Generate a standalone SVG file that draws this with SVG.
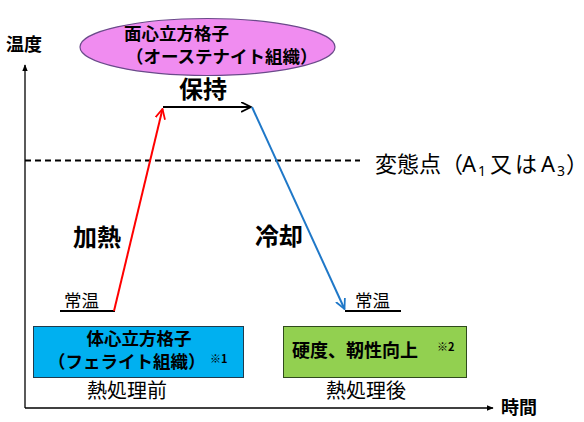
<svg xmlns="http://www.w3.org/2000/svg" width="584" height="422" viewBox="0 0 584 422">
<defs>
<marker id="ahk" viewBox="0 0 10 10" refX="9" refY="5" markerWidth="7" markerHeight="7" orient="auto" markerUnits="userSpaceOnUse"><path d="M0,1 L10,5 L0,9 Z" fill="#000"/></marker>
<marker id="ahr" viewBox="0 0 10 10" refX="9" refY="5" markerWidth="11" markerHeight="11" orient="auto" markerUnits="userSpaceOnUse"><path d="M0,0.5 L9,5 L0,9.5" fill="none" stroke="#FF0000" stroke-width="1.6"/></marker>
<marker id="ahb" viewBox="0 0 10 10" refX="9" refY="5" markerWidth="11" markerHeight="11" orient="auto" markerUnits="userSpaceOnUse"><path d="M0,0.5 L9,5 L0,9.5" fill="none" stroke="#1F78C8" stroke-width="1.6"/></marker>
<marker id="ahh" viewBox="0 0 10 10" refX="9" refY="5" markerWidth="11" markerHeight="11" orient="auto" markerUnits="userSpaceOnUse"><path d="M0,0.5 L9,5 L0,9.5" fill="none" stroke="#000" stroke-width="1.6"/></marker>
</defs>
<style>
text{font-family:"Noto Sans CJK JP","Noto Sans CJK SC",sans-serif;fill:#000}
.b{font-weight:bold}
.n{font-weight:normal}
.lat{font-family:"Noto Sans","Open Sans",sans-serif}
</style>
<rect width="584" height="422" fill="#fff"/>
<g id="axes">
<line x1="25" y1="408" x2="25" y2="65" stroke="#000" stroke-width="1.3" marker-end="url(#ahk)"/>
<line x1="25" y1="408" x2="493" y2="408" stroke="#000" stroke-width="1.3" marker-end="url(#ahk)"/>
<text x="6" y="51" class="b" font-size="18">温度</text>
<text x="501" y="414" class="b" font-size="18">時間</text>
</g>
<g id="transformation">
<line x1="25" y1="160.5" x2="360" y2="160.5" stroke="#000" stroke-width="2" stroke-dasharray="6,4"/>
<text y="172" font-size="22" class="n"><tspan x="375">変態点（</tspan><tspan x="462" class="lat">A</tspan><tspan x="478" y="176" font-size="14" class="lat">1</tspan><tspan x="490" y="172">又</tspan><tspan x="515">は</tspan><tspan x="541" class="lat">A</tspan><tspan x="557" y="176" font-size="14" class="lat">3</tspan><tspan x="566" y="172">）</tspan></text>
</g>
<g id="austenite">
<ellipse cx="207.5" cy="47" rx="127.5" ry="28.5" fill="#F08CF0" stroke="#6A4A8A" stroke-width="1.2"/>
<text x="124" y="40" class="b" font-size="17.5">面心立方格子</text>
<text x="126" y="63" class="b" font-size="17.5">（オーステナイト組織）</text>
</g>
<g id="connectors" fill="none" stroke-width="2">
<line x1="60" y1="311" x2="115" y2="311" stroke="#000"/>
<line x1="114" y1="311" x2="162.5" y2="109" stroke="#FF0000" marker-end="url(#ahr)"/>
<line x1="163" y1="107" x2="251" y2="107" stroke="#000" marker-end="url(#ahh)"/>
<line x1="252" y1="107" x2="344.5" y2="309" stroke="#1F78C8" marker-end="url(#ahb)"/>
<line x1="345" y1="311" x2="401" y2="311" stroke="#000"/>
</g>
<g id="labels">
<text x="179" y="98" class="b" font-size="24">保持</text>
<text x="73" y="246" class="b" font-size="24">加熱</text>
<text x="255" y="245" class="b" font-size="24">冷却</text>
<text x="64" y="307" font-size="17.5" class="n" fill="#333">常温</text>
<text x="355" y="307" font-size="17.5" class="n" fill="#333">常温</text>
</g>
<g id="ferrite">
<rect x="33.5" y="326.5" width="210" height="51" fill="#00B0F0" stroke="#1F3B4D" stroke-width="1"/>
<text x="139" y="345" class="b" font-size="17.5" text-anchor="middle">体心立方格子</text>
<text x="48" y="368" class="b" font-size="17.5">（フェライト組織）</text>
<text x="210" y="363" class="b" font-size="11">※1</text>
<text x="87" y="398" font-size="20" class="n">熱処理前</text>
</g>
<g id="after">
<rect x="283.5" y="326.5" width="183" height="51" fill="#92D050" stroke="#2F4A1C" stroke-width="1"/>
<text x="292" y="357" class="b" font-size="18">硬度、靭性向上</text>
<text x="437" y="351" class="b" font-size="11">※2</text>
<text x="326" y="398" font-size="20" class="n">熱処理後</text>
</g>
</svg>
